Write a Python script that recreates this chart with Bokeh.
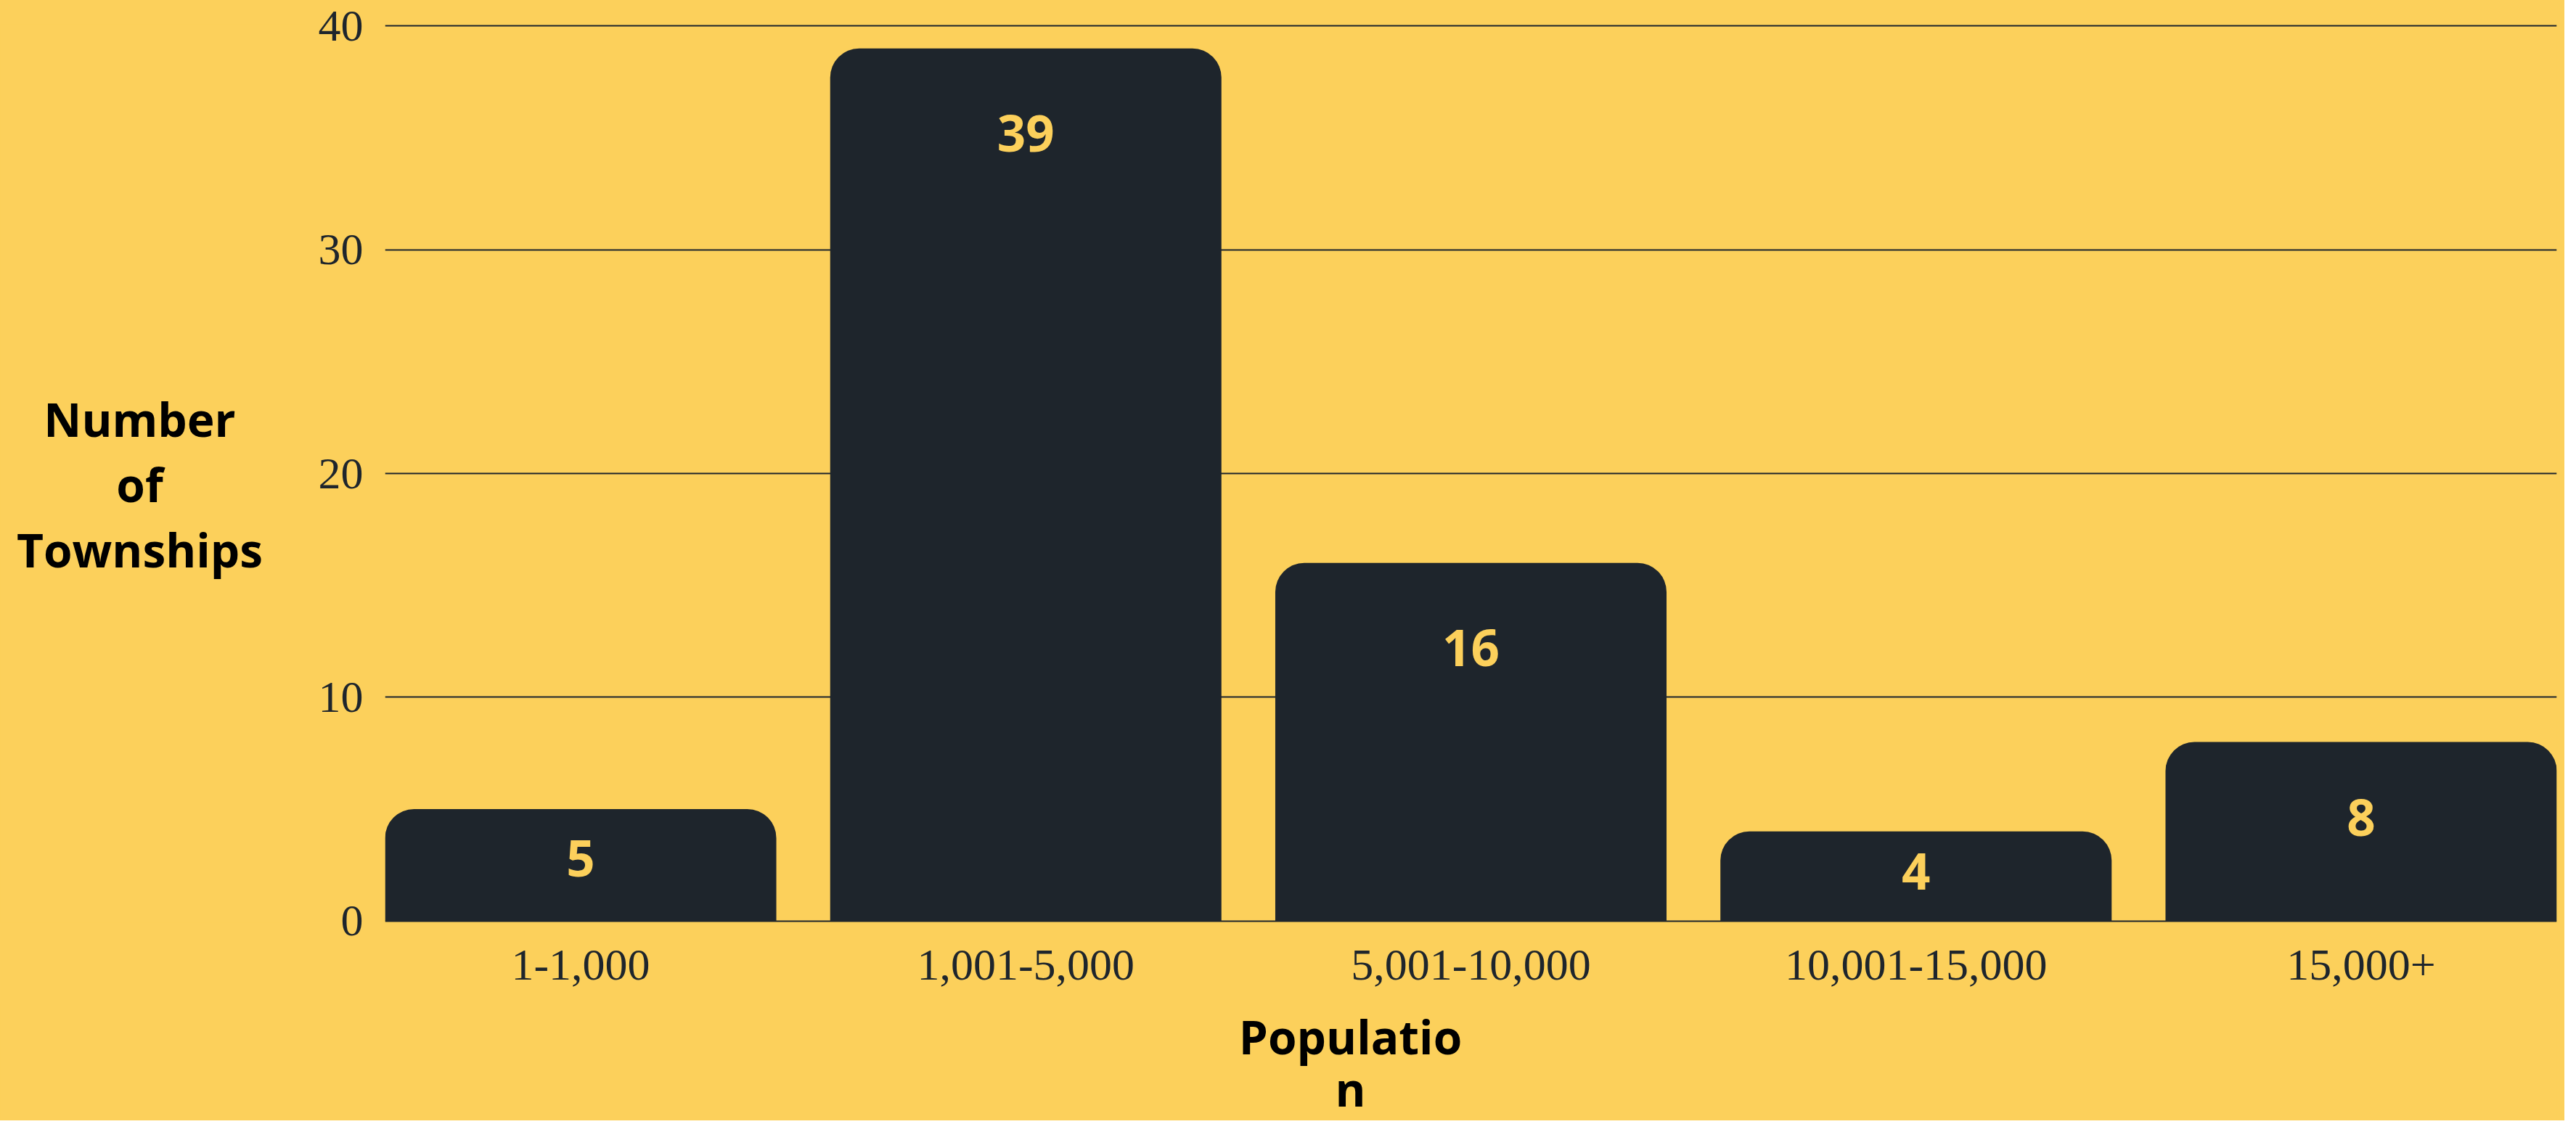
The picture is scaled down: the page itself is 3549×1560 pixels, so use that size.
from bokeh.plotting import figure
from bokeh.models import FixedTicker, Range1d, ColumnDataSource
from bokeh.layouts import row, column
from bokeh.core.properties import value
from bokeh.embed import file_html
from bokeh.resources import INLINE

# ---- data ----
categories = ["1-1,000", "1,001-5,000", "5,001-10,000", "10,001-15,000", "15,000+"]
townships = [5, 39, 16, 4, 8]
y_ticks = [0, 10, 20, 30, 40]
x_title_lines = ["Populatio", "n"]
y_title_lines = ["Number", "of", "Townships"]

# ---- style ----
BG = "#FCD05B"
DARK = "#1E252C"
W, H = 3533, 1544
LEFT_W = 420
TOP_B, BOT_B = 33, 112
FRAME_H = 1238
MAIN_H = TOP_B + FRAME_H + BOT_B
BOTTOM_H = H - MAIN_H
BAR_W = 0.879
TITLE_FONT = "Open Sans"
TICK_FONT = "Liberation Serif"
TXT_SHIFT = 25  # px: rendered baseline sits this much lower than requested


def blank_fig(w, h, top=0, bottom=0, right=0):
    f = figure(width=w, height=h, output_backend="svg", toolbar_location=None,
               title=None,
               x_range=Range1d(0, w - right), y_range=Range1d(bottom, h - top),
               x_axis_location=None, y_axis_location=None,
               min_border_left=0, min_border_right=right,
               min_border_top=top, min_border_bottom=bottom)
    f.background_fill_color = BG
    f.border_fill_color = BG
    f.outline_line_color = None
    f.grid.visible = False
    return f


# ---- main chart ----
xs = list(range(len(categories)))
p = figure(width=W - LEFT_W, height=MAIN_H, output_backend="svg",
           toolbar_location=None, title=None,
           x_range=Range1d(-BAR_W / 2, len(categories) - 1 + BAR_W / 2),
           y_range=Range1d(-0.08, 40.08),
           min_border_left=110, min_border_right=11,
           min_border_top=TOP_B, min_border_bottom=BOT_B)
p.background_fill_color = BG
p.border_fill_color = BG
p.outline_line_color = None

px_per_unit = FRAME_H / 40.16
label_y = [v - min(4.6, 1.0 + 0.4 * v) + TXT_SHIFT / px_per_unit for v in townships]
src = ColumnDataSource(dict(x=xs, top=townships, ly=label_y,
                            t=[str(v) for v in townships]))

p.vbar(x="x", top="top", bottom=0, width=BAR_W, source=src,
       fill_color=DARK, line_color=None, border_radius=(40, 40, 0, 0))

p.text(x="x", y="ly", text="t", source=src,
       text_font=value(TITLE_FONT), text_font_style="bold",
       text_font_size="69px", text_color=BG,
       text_align="center", text_baseline="alphabetic")

p.yaxis.ticker = FixedTicker(ticks=y_ticks)
p.xaxis.ticker = FixedTicker(ticks=xs)
p.xaxis.major_label_overrides = {i: c for i, c in enumerate(categories)}
for ax in (p.xaxis, p.yaxis):
    ax.axis_line_color = None
    ax.major_tick_line_color = None
    ax.minor_tick_line_color = None
    ax.major_tick_out = 0
    ax.major_tick_in = 0
    ax.major_label_text_font = TICK_FONT
    ax.major_label_text_font_size = "62px"
    ax.major_label_text_color = DARK
    ax.major_label_text_font_style = "normal"
p.yaxis.major_label_standoff = 30
p.xaxis.major_label_standoff = 38

p.xgrid.grid_line_color = None
p.ygrid.grid_line_color = DARK
p.ygrid.grid_line_width = 2

# ---- y title (left panel, same frame borders as the chart) ----
left = blank_fig(LEFT_W, MAIN_H, top=TOP_B, bottom=BOT_B)
y_base = [601.7 + 90 * i for i in range(len(y_title_lines))]
left.text(x=[192] * len(y_title_lines),
          y=[MAIN_H - (b - TXT_SHIFT) for b in y_base],
          text=y_title_lines, text_font=value(TITLE_FONT),
          text_font_style="bold", text_font_size="64px", text_color="black",
          text_align="center", text_baseline="alphabetic")

# ---- x title (bottom panel) ----
bottom = blank_fig(W, BOTTOM_H, right=11)
x_base = [1453, 1525]
bottom.text(x=[1860] * len(x_title_lines),
            y=[H - (b - TXT_SHIFT) for b in x_base],
            text=x_title_lines, text_font=value(TITLE_FONT),
            text_font_style="bold", text_font_size="64px", text_color="black",
            text_align="center", text_baseline="alphabetic")

layout = column(row(left, p, spacing=0), bottom, spacing=0,
                styles={"background-color": BG})

open("out.html", "w").write(file_html(layout, INLINE))
